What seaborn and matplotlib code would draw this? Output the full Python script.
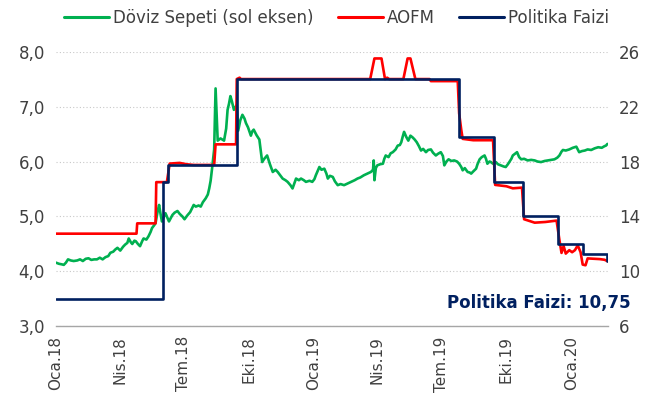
import matplotlib
matplotlib.use("Agg")
import pandas as pd
import matplotlib.pyplot as plt
import seaborn as sns
from matplotlib.lines import Line2D

# Döviz sepeti (0.5 USD + 0.5 EUR), sol eksen
fx_dates = [
    "2018-01-01", "2018-01-05", "2018-01-09", "2018-01-12", "2018-01-15", "2018-01-18", "2018-01-22", "2018-01-26", "2018-01-31",
    "2018-02-04", "2018-02-08", "2018-02-12", "2018-02-16", "2018-02-20", "2018-02-24", "2018-02-28",
    "2018-03-04", "2018-03-08", "2018-03-12", "2018-03-16", "2018-03-19", "2018-03-23", "2018-03-26", "2018-03-29",
    "2018-04-02", "2018-04-06", "2018-04-09", "2018-04-12", "2018-04-14", "2018-04-17", "2018-04-19", "2018-04-22", "2018-04-24", "2018-04-27", "2018-04-30",
    "2018-05-03", "2018-05-05", "2018-05-09", "2018-05-12", "2018-05-15", "2018-05-17", "2018-05-20", "2018-05-22", "2018-05-25", "2018-05-27", "2018-05-29", "2018-05-31",
    "2018-06-03", "2018-06-05", "2018-06-08", "2018-06-10", "2018-06-13", "2018-06-15", "2018-06-18", "2018-06-22", "2018-06-25", "2018-06-29",
    "2018-07-02", "2018-07-06", "2018-07-10", "2018-07-15", "2018-07-18", "2018-07-22", "2018-07-25", "2018-07-28",
    "2018-08-01", "2018-08-04", "2018-08-06", "2018-08-08", "2018-08-10", "2018-08-13", "2018-08-15", "2018-08-18", "2018-08-22", "2018-08-27", "2018-08-30",
    "2018-09-01", "2018-09-03", "2018-09-05", "2018-09-07", "2018-09-10", "2018-09-14", "2018-09-16", "2018-09-19", "2018-09-22", "2018-09-25", "2018-09-27", "2018-09-30",
    "2018-10-04", "2018-10-06", "2018-10-08", "2018-10-12", "2018-10-16", "2018-10-18", "2018-10-20", "2018-10-23", "2018-10-27", "2018-10-31",
    "2018-11-04", "2018-11-08", "2018-11-11", "2018-11-15", "2018-11-18", "2018-11-22", "2018-11-25", "2018-11-29",
    "2018-12-02", "2018-12-05", "2018-12-07", "2018-12-11", "2018-12-14", "2018-12-18", "2018-12-21", "2018-12-26", "2018-12-30",
    "2019-01-02", "2019-01-04", "2019-01-07", "2019-01-09", "2019-01-12", "2019-01-16", "2019-01-19", "2019-01-21", "2019-01-24", "2019-01-28", "2019-01-31",
    "2019-02-04", "2019-02-08", "2019-02-13", "2019-02-18", "2019-02-23", "2019-02-28",
    "2019-03-04", "2019-03-08", "2019-03-13", "2019-03-18", "2019-03-23", "2019-03-26", "2019-03-27", "2019-03-28", "2019-03-30",
    "2019-04-01", "2019-04-05", "2019-04-09", "2019-04-11", "2019-04-13", "2019-04-17", "2019-04-20", "2019-04-23", "2019-04-27", "2019-04-30",
    "2019-05-03", "2019-05-05", "2019-05-07", "2019-05-09", "2019-05-12", "2019-05-15", "2019-05-18", "2019-05-21", "2019-05-24", "2019-05-27", "2019-05-30",
    "2019-06-02", "2019-06-05", "2019-06-09", "2019-06-12", "2019-06-16", "2019-06-19", "2019-06-23", "2019-06-26", "2019-06-30",
    "2019-07-03", "2019-07-05", "2019-07-08", "2019-07-11", "2019-07-15", "2019-07-19", "2019-07-23", "2019-07-26", "2019-07-29", "2019-07-31",
    "2019-08-03", "2019-08-07", "2019-08-10", "2019-08-12", "2019-08-15", "2019-08-19", "2019-08-21", "2019-08-24", "2019-08-27", "2019-08-31",
    "2019-09-02", "2019-09-04", "2019-09-07", "2019-09-09", "2019-09-12", "2019-09-16", "2019-09-19", "2019-09-23", "2019-09-27", "2019-09-30",
    "2019-10-03", "2019-10-05", "2019-10-08", "2019-10-10", "2019-10-13", "2019-10-16", "2019-10-19", "2019-10-22", "2019-10-26", "2019-10-31",
    "2019-11-05", "2019-11-10", "2019-11-14", "2019-11-19", "2019-11-24", "2019-11-29",
    "2019-12-03", "2019-12-08", "2019-12-12", "2019-12-15", "2019-12-18", "2019-12-20", "2019-12-24", "2019-12-29",
    "2020-01-03", "2020-01-08", "2020-01-10", "2020-01-12", "2020-01-16", "2020-01-20", "2020-01-24", "2020-01-29",
    "2020-02-03", "2020-02-08", "2020-02-13", "2020-02-17", "2020-02-19", "2020-02-21",
]
fx_values = [
    4.16, 4.14, 4.13, 4.12, 4.16, 4.22, 4.20, 4.19, 4.20,
    4.22, 4.19, 4.23, 4.24, 4.21, 4.22, 4.22,
    4.25, 4.22, 4.26, 4.28, 4.34, 4.36, 4.40, 4.43,
    4.38, 4.45, 4.49, 4.52, 4.60, 4.53, 4.50, 4.56, 4.55, 4.50, 4.46,
    4.55, 4.60, 4.58, 4.64, 4.72, 4.79, 4.84, 4.88, 5.10, 5.21, 5.05, 4.91,
    5.00, 5.06, 4.97, 4.91, 4.98, 5.03, 5.07, 5.10, 5.05, 5.00,
    4.95, 5.02, 5.08, 5.21, 5.18, 5.20, 5.18, 5.26,
    5.33, 5.40, 5.51, 5.65, 5.87, 6.22, 7.33, 6.38, 6.42, 6.38, 6.60,
    6.94, 7.05, 7.19, 7.10, 6.94, 7.03, 6.56, 6.75, 6.85, 6.78, 6.70, 6.62,
    6.47, 6.55, 6.58, 6.48, 6.40, 6.20, 5.99, 6.05, 6.11, 5.95,
    5.81, 5.85, 5.81, 5.74, 5.69, 5.66, 5.63, 5.57,
    5.51, 5.62, 5.69, 5.66, 5.69, 5.66, 5.63, 5.65, 5.63,
    5.68, 5.75, 5.84, 5.90, 5.85, 5.87, 5.78, 5.69, 5.74, 5.72, 5.64,
    5.57, 5.59, 5.57, 5.60, 5.63, 5.66,
    5.69, 5.71, 5.75, 5.78, 5.81, 5.85, 6.02, 5.66, 5.88,
    5.93, 5.95, 5.96, 6.05, 6.11, 6.08, 6.15, 6.17, 6.22, 6.29,
    6.30, 6.35, 6.45, 6.54, 6.45, 6.38, 6.47, 6.44, 6.40, 6.35, 6.28,
    6.20, 6.23, 6.17, 6.21, 6.22, 6.16, 6.11, 6.14, 6.17,
    6.10, 5.93, 6.00, 6.04, 6.01, 6.02, 6.00, 5.96, 5.90, 5.84,
    5.88, 5.81, 5.80, 5.78, 5.82, 5.87, 5.95, 6.04, 6.08, 6.11,
    6.05, 5.96, 6.00, 5.99, 5.96, 5.99, 5.95, 5.93, 5.91, 5.90,
    5.95, 5.99, 6.05, 6.11, 6.14, 6.17, 6.08, 6.04, 6.05, 6.02,
    6.03, 6.02, 6.00, 5.99, 6.01, 6.02,
    6.03, 6.04, 6.07, 6.11, 6.18, 6.21, 6.20, 6.22,
    6.25, 6.27, 6.22, 6.17, 6.19, 6.20, 6.22, 6.21,
    6.24, 6.26, 6.25, 6.28, 6.29, 6.32,
]

# AOFM (ağırlıklı ortalama fonlama maliyeti), sağ eksen
aofm_dates = [
    "2018-01-01", "2018-04-25", "2018-04-26", "2018-05-22", "2018-05-23", "2018-06-07",
    "2018-06-11", "2018-06-25", "2018-07-05", "2018-07-15", "2018-08-13", "2018-08-15",
    "2018-09-13", "2018-09-14", "2018-09-18", "2018-09-20", "2019-03-22", "2019-03-28",
    "2019-04-07", "2019-04-12", "2019-04-15", "2019-04-18", "2019-05-08", "2019-05-14",
    "2019-05-18", "2019-05-25", "2019-06-14", "2019-06-16", "2019-07-24", "2019-07-26",
    "2019-07-29", "2019-07-31", "2019-08-15", "2019-09-12", "2019-09-15", "2019-10-01",
    "2019-10-10", "2019-10-23", "2019-10-26", "2019-11-10", "2019-11-25", "2019-12-11",
    "2019-12-15", "2019-12-18", "2019-12-21", "2019-12-24", "2019-12-29", "2020-01-02",
    "2020-01-06", "2020-01-10", "2020-01-14", "2020-01-17", "2020-01-21", "2020-01-24",
    "2020-02-10", "2020-02-17", "2020-02-21",
]
aofm_values = [
    12.75, 12.75, 13.50, 13.50, 16.50, 16.50,
    17.85, 17.90, 17.80, 17.75, 17.75, 19.25,
    19.25, 24.00, 24.10, 24.00, 24.00, 25.50,
    25.50, 24.00, 24.10, 24.00, 24.00, 25.50,
    25.50, 24.00, 24.00, 23.85, 23.85, 21.50,
    20.30, 19.65, 19.55, 19.55, 16.30, 16.20,
    16.05, 16.10, 13.80, 13.55, 13.60, 13.70,
    12.30, 11.35, 11.85, 11.30, 11.55, 11.40,
    11.55, 11.90, 11.40, 10.50, 10.45, 10.95,
    10.90, 10.85, 10.75,
]

# Politika faizi (bir hafta vadeli repo), sağ eksen
policy_dates = [
    "2018-01-01", "2018-06-01", "2018-06-08", "2018-09-14", "2019-07-26",
    "2019-09-13", "2019-10-25", "2019-12-13", "2020-01-17", "2020-02-20", "2020-02-22",
]
policy_values = [8.00, 16.50, 17.75, 24.00, 19.75, 16.50, 14.00, 12.00, 11.25, 10.75, 10.75]

tick_dates = ["2018-01-01", "2018-04-01", "2018-07-01", "2018-10-01", "2019-01-01",
              "2019-04-01", "2019-07-01", "2019-10-01", "2020-01-01"]
tick_labels = ["Oca.18", "Nis.18", "Tem.18", "Eki.18", "Oca.19",
               "Nis.19", "Tem.19", "Eki.19", "Oca.20"]
left_ticks = [3, 4, 5, 6, 7, 8]
right_ticks = [6, 10, 14, 18, 22, 26]

GREEN = "#00B050"
RED = "#FF0000"
NAVY = "#002060"
TEXT = "#404040"

sns.set_style("white")
plt.rcParams["font.family"] = ["DejaVu Sans"]

fx = pd.DataFrame({"date": pd.to_datetime(fx_dates), "value": fx_values})
aofm = pd.DataFrame({"date": pd.to_datetime(aofm_dates), "value": aofm_values})
policy = pd.DataFrame({"date": pd.to_datetime(policy_dates), "value": policy_values})

fig, ax = plt.subplots(figsize=(6.56, 4.03), dpi=100)
fig.subplots_adjust(left=0.0854, right=0.927, bottom=0.19, top=0.872)

sns.lineplot(data=fx, x="date", y="value", ax=ax, color=GREEN, lw=1.9)
ax2 = ax.twinx()
sns.lineplot(data=aofm, x="date", y="value", ax=ax2, color=RED, lw=1.9)
sns.lineplot(data=policy, x="date", y="value", ax=ax2, color=NAVY, lw=1.9,
             drawstyle="steps-post")

# eksen sınırları ve etiketler
ax.set_xlim(pd.Timestamp("2018-01-01"), pd.Timestamp("2020-02-22"))
ax.set_ylim(3, 8)
ax2.set_ylim(6, 26)
ax.set_yticks(left_ticks)
ax.set_yticklabels([f"{t:.1f}".replace(".", ",") for t in left_ticks], fontsize=12, color=TEXT)
ax2.set_yticks(right_ticks)
ax2.set_yticklabels([str(t) for t in right_ticks], fontsize=12, color=TEXT)
ax.set_xticks(pd.to_datetime(tick_dates))
ax.set_xticklabels(tick_labels, rotation=90, fontsize=11, color=TEXT)
ax.set_xlabel("")
ax.set_ylabel("")
ax2.set_ylabel("")

ax.yaxis.grid(True, linestyle=(0, (1, 2)), color="#C8C8C8", lw=0.8)
ax.set_axisbelow(True)
for side in ["left", "right", "top"]:
    ax.spines[side].set_visible(False)
ax.spines["bottom"].set_color("#A6A6A6")
ax.spines["bottom"].set_linewidth(1.0)
for s in ax2.spines.values():
    s.set_visible(False)
ax.tick_params(axis="x", length=4, width=1, color="#A6A6A6", pad=3)
ax.tick_params(axis="y", length=0, pad=8)
ax2.tick_params(axis="y", length=0, pad=8)

# lejant
handles = [Line2D([], [], color=GREEN, lw=2.2),
           Line2D([], [], color=RED, lw=2.2),
           Line2D([], [], color=NAVY, lw=2.2)]
labels = ["Döviz Sepeti (sol eksen)", "AOFM", "Politika Faizi"]
fig.legend(handles, labels, loc="center", bbox_to_anchor=(0.513, 0.955), ncol=3,
           frameon=False, fontsize=12, handlelength=2.7, handletextpad=0.2,
           columnspacing=1.5, labelcolor=TEXT)

fig.text(0.962, 0.248, "Politika Faizi: 10,75", ha="right", va="center",
         fontsize=12, fontweight="bold", color=NAVY)

fig.savefig("out.png", dpi=100)
